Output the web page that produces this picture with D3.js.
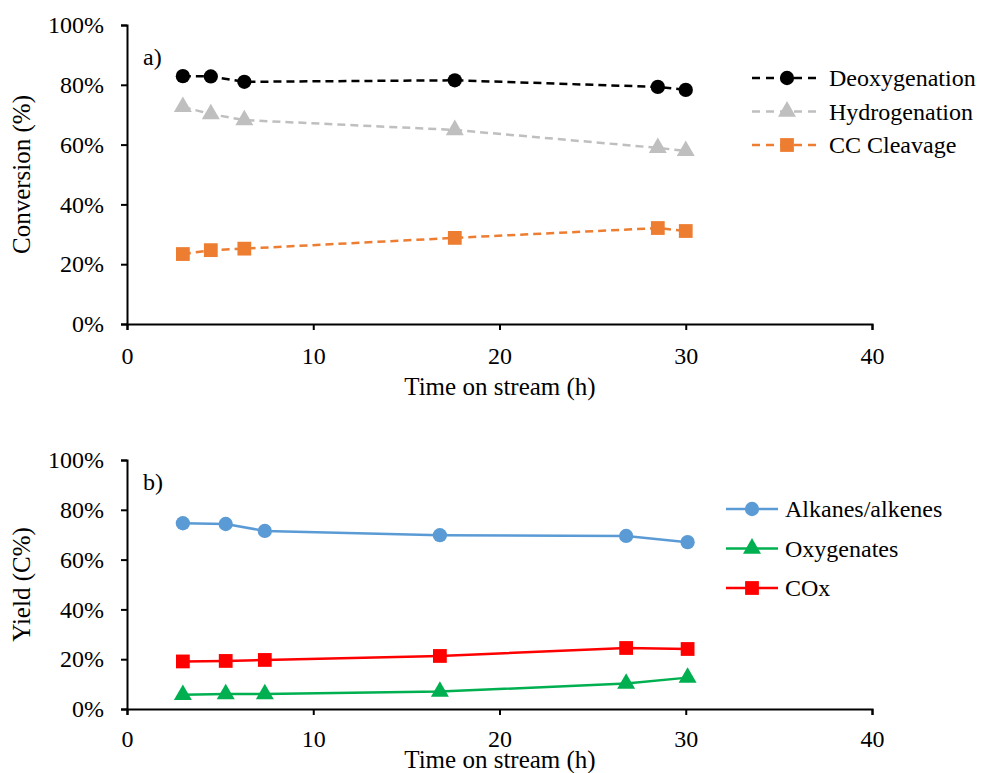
<!DOCTYPE html>
<html>
<head>
<meta charset="utf-8">
<script src="https://cdn.jsdelivr.net/npm/d3@7"></script>
<style>
body { margin: 0; background: #fff; }
text { font-family: "Liberation Serif", "Times New Roman", serif; fill: #000; }
</style>
</head>
<body>
<svg id="svg"></svg>
<script>
// panel a) conversion
var timeA = [3.0, 4.5, 6.3, 17.6, 28.5, 30.0];
var deoxygenation = [0.829, 0.828, 0.810, 0.815, 0.793, 0.783];
var hydrogenation = [0.726, 0.702, 0.682, 0.649, 0.589, 0.579];
var ccCleavage = [0.234, 0.247, 0.252, 0.288, 0.321, 0.311];

// panel b) yield
var timeB = [3.0, 5.3, 7.4, 16.8, 26.8, 30.1];
var alkanes = [0.746, 0.743, 0.715, 0.698, 0.695, 0.670];
var oxygenates = [0.057, 0.060, 0.060, 0.070, 0.102, 0.126];
var cox = [0.191, 0.193, 0.197, 0.213, 0.245, 0.241];

var xTicks = [0, 10, 20, 30, 40];
var yTicks = [0, 0.2, 0.4, 0.6, 0.8, 1.0];

var larghezza = 993;
var altezza = 773;

var svg = d3.select("#svg").attr("width", larghezza).attr("height", altezza);

function drawPanel(opt) {
    var x = d3.scaleLinear().domain([0, 40]).range([127, 872]);
    var y = d3.scaleLinear().domain([0, 1]).range([opt.bottom, opt.top]);

    var yAxis = svg.append("g")
        .attr("transform", "translate(127,0)")
        .call(d3.axisLeft(y).tickValues(yTicks).tickSize(6).tickPadding(17)
            .tickFormat(d3.format(".0%")));
    var xAxis = svg.append("g")
        .attr("transform", "translate(0," + opt.bottom + ")")
        .call(d3.axisBottom(x).tickValues(xTicks).tickSize(6).tickPadding(opt.xPad));

    [xAxis, yAxis].forEach(function (a) {
        a.selectAll("path").attr("stroke", "#000").attr("stroke-width", 2);
        a.selectAll("line").attr("stroke", "#000").attr("stroke-width", 2);
        a.selectAll("text").style("font-family", "Liberation Serif").style("font-size", "24px");
    });

    svg.append("text")
        .attr("x", 143).attr("y", opt.labelY)
        .style("font-size", "24px")
        .text(opt.label);

    svg.append("text")
        .attr("x", 500).attr("y", opt.xTitleY)
        .attr("text-anchor", "middle")
        .style("font-size", "25px")
        .text("Time on stream (h)");

    svg.append("text")
        .attr("transform", "translate(30," + ((opt.top + opt.bottom) / 2) + ") rotate(-90)")
        .attr("text-anchor", "middle")
        .style("font-size", "25px")
        .text(opt.yTitle);

    var line = d3.line()
        .x(function (d) { return x(d[0]); })
        .y(function (d) { return y(d[1]); });

    opt.series.forEach(function (s, i) {
        var pts = opt.time.map(function (t, j) { return [t, s.values[j]]; });
        svg.append("path")
            .attr("d", line(pts))
            .attr("fill", "none")
            .attr("stroke", s.color)
            .attr("stroke-width", 2.5)
            .attr("stroke-dasharray", opt.dash ? "8,5" : null);

        pts.forEach(function (p) {
            drawMarker(x(p[0]), y(p[1]), s.shape, s.color);
        });

        // legend
        var ly = opt.legendY + i * opt.legendStep;
        svg.append("line")
            .attr("x1", opt.legendX1).attr("x2", opt.legendX2)
            .attr("y1", ly).attr("y2", ly)
            .attr("stroke", s.color).attr("stroke-width", 2.5)
            .attr("stroke-dasharray", opt.dash ? "8,6" : null);
        drawMarker((opt.legendX1 + opt.legendX2) / 2, ly, s.shape, s.color);
        svg.append("text")
            .attr("x", opt.legendX2 + 7).attr("y", ly)
            .attr("dy", "0.35em")
            .style("font-size", "24px")
            .text(s.name);
    });
}

function drawMarker(cx, cy, shape, color) {
    var sym = shape === "circle" ? d3.symbolCircle :
              shape === "square" ? d3.symbolSquare : d3.symbolTriangle;
    var size = shape === "circle" ? 160 : shape === "square" ? 190 : 140;
    svg.append("path")
        .attr("d", d3.symbol().type(sym).size(size)())
        .attr("transform", "translate(" + cx + "," + cy + ")")
        .attr("fill", color);
}

drawPanel({
    top: 25, bottom: 324, label: "a)", labelY: 65, yTitle: "Conversion (%)", xTitleY: 395, xPad: 17,
    time: timeA, dash: true,
    legendX1: 752, legendX2: 822, legendY: 78, legendStep: 33.5,
    series: [
        { name: "Deoxygenation", values: deoxygenation, color: "#000000", shape: "circle" },
        { name: "Hydrogenation", values: hydrogenation, color: "#BFBFBF", shape: "triangle" },
        { name: "CC Cleavage", values: ccCleavage, color: "#ED7D31", shape: "square" }
    ]
});

drawPanel({
    top: 460, bottom: 709, label: "b)", labelY: 490, yTitle: "Yield (C%)", xTitleY: 768, xPad: 15,
    time: timeB, dash: false,
    legendX1: 726, legendX2: 778, legendY: 509, legendStep: 39.5,
    series: [
        { name: "Alkanes/alkenes", values: alkanes, color: "#5B9BD5", shape: "circle" },
        { name: "Oxygenates", values: oxygenates, color: "#00B050", shape: "triangle" },
        { name: "COx", values: cox, color: "#FF0000", shape: "square" }
    ]
});
</script>
</body>
</html>
